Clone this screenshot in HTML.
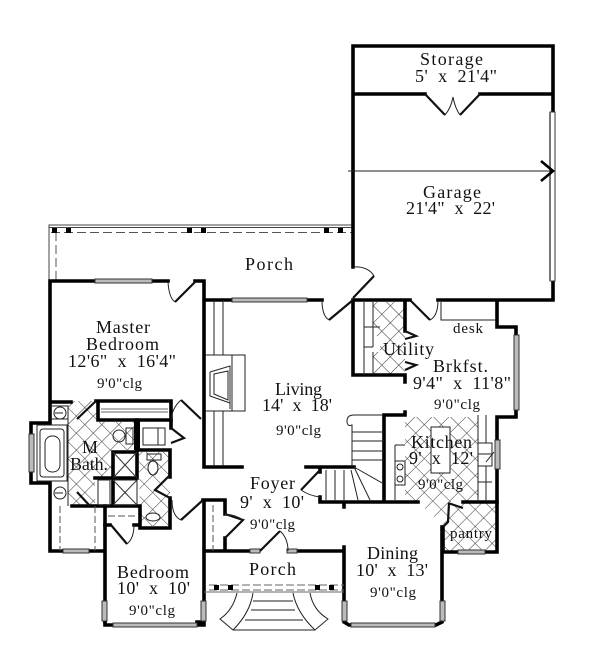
<!DOCTYPE html>
<html><head><meta charset="utf-8"><style>
html,body{margin:0;padding:0;background:#fff}
svg{display:block}
text{font-family:"Liberation Serif",serif;font-size:18px;fill:#111}
.s{font-size:15px}
.w{fill:none;stroke:#000;stroke-width:3.6;stroke-linecap:square}
.d{fill:none;stroke:#111;stroke-width:2.2}
.t{fill:none;stroke:#444;stroke-width:1}
.a{fill:none;stroke:#222;stroke-width:1}
.h{fill:none;stroke:#555;stroke-width:1;stroke-dasharray:9 4}
.win{fill:#bbb;stroke:#333;stroke-width:1}
</style></head><body>
<svg width="600" height="663" viewBox="0 0 600 663" xmlns="http://www.w3.org/2000/svg">
<defs><pattern id="tile" width="12" height="12" patternUnits="userSpaceOnUse" patternTransform="rotate(45)">
<path d="M0 0H12M0 0V12" stroke="#333" stroke-width="1" fill="none"/></pattern></defs>
<rect width="600" height="663" fill="#fff"/>

<!-- tile -->
<g fill="url(#tile)">
<path d="M373 302H405V375H373V352H380V336H373Z"/>
<path d="M68 401H96L98 422H137V450H112V478H95V506H90L68 506Z"/>
<path d="M139 452H170V498H168V526H140Z"/>
<path d="M405 417H478V502H448V525H443L418 502H405Z"/>
<path d="M448 503H496V551H443V527L449 522Z"/>
</g>

<!-- thin porch -->
<path class="t" d="M49 281V225H353M49 227.5H353"/>
<path class="h" d="M51 232.500H353M56 232V281"/>
<g fill="#000"><rect x="52" y="228" width="5" height="5"/><rect x="66" y="228" width="5" height="5"/><rect x="187" y="228" width="5" height="5"/><rect x="201" y="228" width="5" height="5"/><rect x="324" y="228" width="5" height="5"/><rect x="338" y="228" width="5" height="5"/></g>

<!-- walls -->
<path class="w" d="M353 46H553V112M353 46V267M353 94H425M480 94H553M553 281V300H438M410 300H353V375H405V382M405 300V331M497 300V327H516V335M516 410V417H497V552H443V527M497 552H485M458 552H443"/>
<path class="w" d="M322 300H232M204 300H232M204 281V467H242M195 281H204M168 281H152M95 281H50V402M50 402H71M96 401H171V420H98V401M50 402V423H31V483H50V551H63M89 551H105M105 506V622M50 483V551"/>
<path class="w" d="M137 420V450H170V477M171 420V428M113 452H137V478H113ZM95 478H113V506M113 478V505M90 506H140V528H170V498M140 508V528M105 506H72M105 525H110M134 525H140"/>
<path class="w" d="M203 500H225V514M225 538V551H204M204 500V622H197M105 622V625H113M197 625H204M204 551H250M297 551H344M344 547V622L349 625H436L442 622V527M225 551H250"/>
<path class="w" d="M384 415H405V412M384 415V500M306 467H354M320 467V472M320 497V502H418M463 502H497M344 505V507"/>
<path d="M137 420V450" stroke="#000" stroke-width="6" fill="none"/>

<!-- windows -->
<g class="win">
<rect x="550" y="112" width="5" height="169" fill="#fff"/><rect x="549" y="112" width="2" height="169" fill="#777" stroke="none"/>
<rect x="232" y="298" width="75" height="4"/><rect x="95" y="279" width="57" height="4"/>
<rect x="514" y="335" width="5" height="75"/><rect x="495" y="440" width="5" height="29"/>
<rect x="458" y="550" width="27" height="4"/><rect x="351" y="623" width="84" height="4"/>
<rect x="113" y="623" width="84" height="4"/><rect x="63" y="549" width="26" height="4"/>
<rect x="342" y="601" width="5" height="20"/><rect x="440" y="601" width="5" height="20"/>
<rect x="102" y="601" width="5" height="20"/><rect x="201" y="601" width="5" height="20"/>
<rect x="29" y="434" width="5" height="38"/>
<rect x="250" y="549" width="10" height="4"/><rect x="287" y="549" width="10" height="4"/>
</g>

<!-- door leaves -->
<path class="d" d="M425 94L445 115M480 94L460 115M353 298L374 276M353 300L329 320M410 300L430 320M195 282L175 302M96 401L77 419M181 400L201 419M203 500L181 520M111 525L127 544M260 551L280 531M225 514L243 520L225 538M320 470L301 490M77 492L90 506M170 475L155 490L170 498M171 428L184 438L171 443M405 331L416 336L405 339M405 370L416 365L405 362M448 503L463 508M443 527L448 522L449 503"/>
<g class="a">
<path d="M445 115Q451 108 453 97Q455 108 460 115M353 267Q368 266 374 276M329 320Q322 316 322 300M430 320Q438 316 438 300M175 302Q169 298 168 282M181 400Q172 408 171 420M181 520Q172 516 172 500M127 544Q134 538 134 525M280 531Q288 538 288 551M225 514Q236 515 243 520"/>
<path d="M301 490Q310 496 320 497"/>
<!-- arrow line -->
<path d="M348 171H553" stroke="#222"/>
<!-- fireplace + hearth -->
<path d="M214 300V355M223 300V355M214 411V466M223 411V466M205 355H245V411H205M232 355V411"/>
<path d="M210 372L230 366V409M210 372V396L230 403M214 374L228 371V400L214 394Z"/>
<!-- closet -->
<path d="M101 412H168M101 409H168" stroke="#666"/>
<!-- desk -->
<path d="M441 302V320H496"/>
<!-- utility cabinets -->
<path d="M364 302V375M373 302V347M364 347H373M373 352V375M364 327H380"/>
<!-- tub -->
<rect x="37" y="425" width="30" height="56"/><rect x="40" y="429" width="24" height="48" rx="3"/><rect x="45" y="436" width="15" height="36" rx="7"/>
<path d="M51 419H68M50 406H68V506"/>
<circle cx="60" cy="413" r="6"/><circle cx="60" cy="493" r="6"/>
<path d="M55 413H63M55 493H63"/>
<!-- M bath fixtures -->
<rect x="143" y="428" width="22" height="17"/><path d="M158 428V445"/>
<ellipse cx="119" cy="436" rx="6" ry="6"/><rect x="126" y="428" width="7" height="16"/>
<rect x="147" y="454" width="14" height="6"/><ellipse cx="153" cy="468" rx="5" ry="7"/>
<ellipse cx="153" cy="517" rx="7" ry="4"/><rect x="98" y="480" width="12" height="25"/>
<path d="M113 452L137 478M137 452L113 478M113 480L137 505M137 480L113 505" stroke="#333"/>
<path d="M113 480H137V505H113"/>
<path d="M60 506V551M95 506V551M213 505V551M108 516H137" stroke-dasharray="7 3" stroke="#555"/>
<!-- stairs -->
<path d="M383 415H354Q347 415 347 421Q347 427 352 425V467M352 432H384M352 441H384M352 451H384M352 460H384M326 470V500M335 470V500M344 470V500M354 467L382 483M354 467L370 500M351 470L358 500"/>
<!-- kitchen -->
<rect x="431" y="427" width="19" height="46" fill="#fff"/>
<path d="M395 445H405M395 445V500M478 415V502M486 415V502M478 482H492M478 443H492"/>
<rect x="395" y="461" width="10" height="24"/><circle cx="400" cy="467" r="3"/><circle cx="400" cy="479" r="3"/>
<rect x="478" y="443" width="14" height="23" fill="#fff"/><path d="M478 454H492M486 462L494 452"/>
<!-- porch front -->
<path d="M204 592H344M206 585H344M206 590H344" stroke="#666"/>
<path d="M237 593Q233 610 220 619L233 630Q250 613 253 593M310 593Q313 610 328 619L315 630Q297 613 293 593M253 601H293M251 610H295M245 620H303M233 630H315"/>
</g>
<path d="M206 585H344M206 590H344" stroke="#fff" stroke-width="2" stroke-dasharray="3 8" fill="none"/>
<g fill="#000"><rect x="214" y="585" width="5" height="5"/><rect x="228" y="585" width="5" height="5"/><rect x="315" y="585" width="5" height="5"/><rect x="329" y="585" width="5" height="5"/></g>
<path d="M541 161L553 171L541 181" fill="none" stroke="#000" stroke-width="2.6"/>

<!-- labels -->
<g>
<text x="420" y="65" textLength="63">Storage</text>
<text x="415" y="82" textLength="82">5'&#160;&#160;x&#160;&#160;21'4"</text>
<text x="423" y="198" textLength="58">Garage</text>
<text x="406" y="214" textLength="89">21'4"&#160;&#160;x&#160;&#160;22'</text>
<text x="245" y="270" textLength="48">Porch</text>
<text x="96" y="333" textLength="54">Master</text>
<text x="86" y="350" textLength="73">Bedroom</text>
<text x="68" y="367" textLength="108">12'6"&#160;&#160;x&#160;&#160;16'4"</text>
<text class="s" x="97" y="388" textLength="45">9'0"clg</text>
<text x="275" y="395" textLength="47">Living</text>
<text x="262" y="411" textLength="70">14'&#160;&#160;x&#160;&#160;18'</text>
<text class="s" x="276" y="435" textLength="45">9'0"clg</text>
<text x="383" y="355" textLength="51">Utility</text>
<text x="433" y="372" textLength="55">Brkfst.</text>
<text x="413" y="389" textLength="98">9'4"&#160;&#160;x&#160;&#160;11'8"</text>
<text class="s" x="434" y="409" textLength="46">9'0"clg</text>
<text class="s" x="453" y="333" textLength="30">desk</text>
<text x="411" y="448" textLength="61">Kitchen</text>
<text x="409" y="464" textLength="64">9'&#160;&#160;x&#160;&#160;12'</text>
<text class="s" x="418" y="489" textLength="45">9'0"clg</text>
<text class="s" x="450" y="538" textLength="42">pantry</text>
<text x="250" y="489" textLength="45">Foyer</text>
<text x="240" y="508" textLength="64">9'&#160;&#160;x&#160;&#160;10'</text>
<text class="s" x="250" y="529" textLength="45">9'0"clg</text>
<text x="249" y="575" textLength="47">Porch</text>
<text x="367" y="559" textLength="51">Dining</text>
<text x="356" y="576" textLength="72">10'&#160;&#160;x&#160;&#160;13'</text>
<text class="s" x="370" y="597" textLength="46">9'0"clg</text>
<text x="117" y="578" textLength="72">Bedroom</text>
<text x="117" y="594" textLength="73">10'&#160;&#160;x&#160;&#160;10'</text>
<text class="s" x="129" y="615" textLength="46">9'0"clg</text>
<text x="82" y="453" textLength="12">M.</text>
<text x="70" y="470" textLength="38">Bath.</text>
</g>
</svg>
</body></html>
